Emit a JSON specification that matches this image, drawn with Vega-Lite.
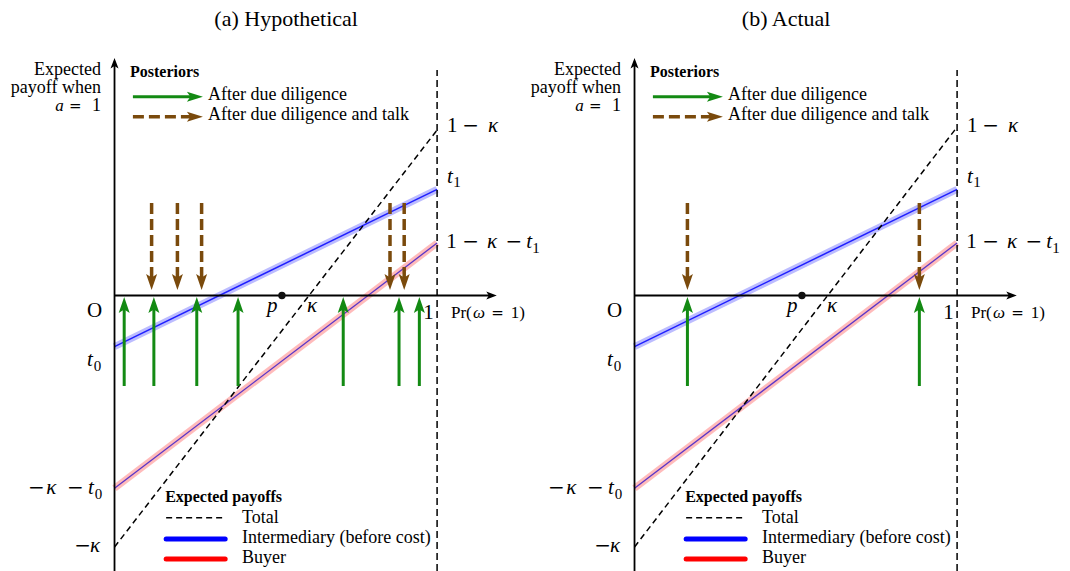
{
  "$schema": "https://vega.github.io/schema/vega-lite/v6.json",
  "background": "white",
  "padding": 0,
  "spacing": 0,
  "bounds": "flush",
  "config": {"view": {"stroke": null}},
  "data": {"values": [
    {"panels":["a","b"],"kind":"blue","x":0,"y":-0.512,"x2":1,"y2":1.062},
    {"panels":["a","b"],"kind":"red","x":0,"y":-1.928,"x2":1,"y2":0.525},
    {"panels":["a"],"kind":"total","x":0,"y":-2.515,"x2":1,"y2":1.655},
    {"panels":["b"],"kind":"total","x":0,"y":-2.515,"x2":1,"y2":1.685},
    {"panels":["a","b"],"kind":"vdash","x":1,"y":-2.755,"y2":2.255},
    {"panels":["a","b"],"kind":"yaxis","x":0,"y":-2.755,"y2":2.375},
    {"panels":["a","b"],"kind":"xaxis","x":0,"x2":1.185,"y":0},
    {"panels":["a","b"],"kind":"p","x":0.519,"y":0},
    {"panels":["a","b"],"kind":"leg_green","x":0.057,"x2":0.274,"y":1.988},
    {"panels":["a","b"],"kind":"leg_brown","x":0.057,"x2":0.274,"y":1.788},
    {"panels":["a","b"],"kind":"leg_total","x":0.16,"x2":0.343,"y":-2.222},
    {"panels":["a","b"],"kind":"leg_blue","x":0.16,"x2":0.343,"y":-2.435},
    {"panels":["a","b"],"kind":"leg_red","x":0.16,"x2":0.343,"y":-2.635},
    {"panels":["a"],"kind":"green","x":0.030,"y":-0.905,"y2":-0.015},
    {"panels":["a"],"kind":"green","x":0.122,"y":-0.905,"y2":-0.015},
    {"panels":["a"],"kind":"green","x":0.255,"y":-0.905,"y2":-0.015},
    {"panels":["a"],"kind":"green","x":0.383,"y":-0.905,"y2":-0.015},
    {"panels":["a"],"kind":"green","x":0.709,"y":-0.905,"y2":-0.015},
    {"panels":["a"],"kind":"green","x":0.882,"y":-0.905,"y2":-0.015},
    {"panels":["a"],"kind":"green","x":0.945,"y":-0.905,"y2":-0.015},
    {"panels":["b"],"kind":"green","x":0.164,"y":-0.905,"y2":-0.015},
    {"panels":["b"],"kind":"green","x":0.883,"y":-0.905,"y2":-0.015},
    {"panels":["a"],"kind":"brown","x":0.115,"y":0.925,"y2":0.055},
    {"panels":["a"],"kind":"brown","x":0.195,"y":0.925,"y2":0.055},
    {"panels":["a"],"kind":"brown","x":0.270,"y":0.925,"y2":0.055},
    {"panels":["a"],"kind":"brown","x":0.854,"y":0.925,"y2":0.055},
    {"panels":["a"],"kind":"brown","x":0.898,"y":0.925,"y2":0.055},
    {"panels":["b"],"kind":"brown","x":0.164,"y":0.925,"y2":0.055},
    {"panels":["b"],"kind":"brown","x":0.883,"y":0.925,"y2":0.055},
    {"panels":["a"],"kind":"title","x":0.532,"y":2.695,"label":"(a) Hypothetical"},
    {"panels":["b"],"kind":"title","x":0.470,"y":2.695,"label":"(b) Actual"},
    {"panels":["a","b"],"kind":"up20","x":-0.085,"y":-0.215,"label":"O"},
    {"panels":["a","b"],"kind":"up20","x":0.957,"y":-0.235,"label":"1"},
    {"panels":["a","b"],"kind":"up20","x":1.031,"y":1.638,"label":"1"},
    {"panels":["a","b"],"kind":"up20","x":1.028,"y":0.475,"label":"1"},
    {"panels":["a","b"],"kind":"op20","x":1.078,"y":1.638,"label":"−"},
    {"panels":["a","b"],"kind":"op20","x":1.078,"y":0.475,"label":"−"},
    {"panels":["a","b"],"kind":"op20","x":1.212,"y":0.475,"label":"−"},
    {"panels":["a","b"],"kind":"op20","x":-0.268,"y":-1.985,"label":"−"},
    {"panels":["a","b"],"kind":"op20","x":-0.147,"y":-1.985,"label":"−"},
    {"panels":["a","b"],"kind":"op20","x":-0.125,"y":-2.565,"label":"−"},
    {"panels":["a","b"],"kind":"it20","x":1.158,"y":1.638,"label":"κ"},
    {"panels":["a","b"],"kind":"it20","x":1.031,"y":1.125,"label":"t"},
    {"panels":["a","b"],"kind":"it20","x":1.155,"y":0.475,"label":"κ"},
    {"panels":["a","b"],"kind":"it20","x":1.276,"y":0.475,"label":"t"},
    {"panels":["a","b"],"kind":"it20","x":0.473,"y":-0.165,"label":"p"},
    {"panels":["a","b"],"kind":"it20","x":0.597,"y":-0.165,"label":"κ"},
    {"panels":["a","b"],"kind":"it20","x":-0.085,"y":-0.705,"label":"t"},
    {"panels":["a","b"],"kind":"it20","x":-0.212,"y":-1.985,"label":"κ"},
    {"panels":["a","b"],"kind":"it20","x":-0.082,"y":-1.985,"label":"t"},
    {"panels":["a","b"],"kind":"it20","x":-0.076,"y":-2.565,"label":"κ"},
    {"panels":["a","b"],"kind":"sub","x":1.050,"y":1.085,"label":"1"},
    {"panels":["a","b"],"kind":"sub","x":1.295,"y":0.425,"label":"1"},
    {"panels":["a","b"],"kind":"sub","x":-0.064,"y":-0.755,"label":"0"},
    {"panels":["a","b"],"kind":"sub","x":-0.061,"y":-2.035,"label":"0"},
    {"panels":["a","b"],"kind":"up16","x":1.043,"y":-0.225,"label":"Pr("},
    {"panels":["a","b"],"kind":"up16","x":1.228,"y":-0.225,"label":"1)"},
    {"panels":["a","b"],"kind":"it16","x":1.111,"y":-0.225,"label":"ω"},
    {"panels":["a","b"],"kind":"op16","x":1.168,"y":-0.225,"label":"="},
    {"panels":["a","b"],"kind":"txtr","x":-0.042,"y":2.205,"label":"Expected"},
    {"panels":["a","b"],"kind":"txtr","x":-0.042,"y":2.025,"label":"payoff when"},
    {"panels":["a","b"],"kind":"txtr","x":-0.042,"y":1.845,"label":"1"},
    {"panels":["a","b"],"kind":"op16","x":-0.141,"y":1.845,"label":"="},
    {"panels":["a","b"],"kind":"it16","x":-0.184,"y":1.845,"label":"a"},
    {"panels":["a","b"],"kind":"txt","x":0.290,"y":1.955,"label":"After due diligence"},
    {"panels":["a","b"],"kind":"txt","x":0.290,"y":1.755,"label":"After due diligence and talk"},
    {"panels":["a","b"],"kind":"txt","x":0.395,"y":-2.275,"label":"Total"},
    {"panels":["a","b"],"kind":"txt","x":0.395,"y":-2.475,"label":"Intermediary (before cost)"},
    {"panels":["a","b"],"kind":"txt","x":0.395,"y":-2.675,"label":"Buyer"},
    {"panels":["a","b"],"kind":"bold","x":0.048,"y":2.185,"label":"Posteriors"},
    {"panels":["a","b"],"kind":"bold","x":0.157,"y":-2.065,"label":"Expected payoffs"}
  ]},
  "transform": [{"flatten": ["panels"], "as": ["panel"]}],
  "facet": {"column": {"field": "panel", "type": "nominal", "header": null}},
  "spec": {
    "width": 520,
    "height": 571,
    "encoding": {
      "x": {"field": "x", "type": "quantitative", "scale": {"domain": [-0.355, 1.257], "nice": false, "zero": false}, "axis": null},
      "y": {"field": "y", "type": "quantitative", "scale": {"domain": [-2.755, 2.955], "nice": false, "zero": false}, "axis": null}
    },
    "layer": [
      {"transform": [{"filter": "datum.kind === 'blue'"}], "mark": {"type": "rule", "stroke": "#b0b0ff", "strokeWidth": 7, "strokeCap": "butt", "opacity": 0.85}, "encoding": {"x2": {"field": "x2"}, "y2": {"field": "y2"}}},
      {"transform": [{"filter": "datum.kind === 'blue'"}], "mark": {"type": "rule", "stroke": "#1f1fff", "strokeWidth": 1.5}, "encoding": {"x2": {"field": "x2"}, "y2": {"field": "y2"}}},
      {"transform": [{"filter": "datum.kind === 'red'"}], "mark": {"type": "rule", "stroke": "#ffb4b4", "strokeWidth": 7, "strokeCap": "butt", "opacity": 0.9}, "encoding": {"x2": {"field": "x2"}, "y2": {"field": "y2"}}},
      {"transform": [{"filter": "datum.kind === 'red'"}], "mark": {"type": "rule", "stroke": "#5a36c8", "strokeWidth": 1.3}, "encoding": {"x2": {"field": "x2"}, "y2": {"field": "y2"}}},
      {"transform": [{"filter": "datum.kind === 'total'"}], "mark": {"type": "rule", "stroke": "#000000", "strokeWidth": 1.5, "strokeDash": [6, 4]}, "encoding": {"x2": {"field": "x2"}, "y2": {"field": "y2"}}},
      {"transform": [{"filter": "datum.kind === 'vdash'"}], "mark": {"type": "rule", "stroke": "#000000", "strokeWidth": 1.5, "strokeDash": [7, 4]}, "encoding": {"y2": {"field": "y2"}}},
      {"transform": [{"filter": "datum.kind === 'yaxis'"}], "mark": {"type": "rule", "stroke": "#000000", "strokeWidth": 1.8, "y2Offset": 6}, "encoding": {"y2": {"field": "y2"}}},
      {"transform": [{"filter": "datum.kind === 'xaxis'"}], "mark": {"type": "rule", "stroke": "#000000", "strokeWidth": 1.8, "x2Offset": -6}, "encoding": {"x2": {"field": "x2"}}},
      {"transform": [{"filter": "datum.kind === 'yaxis'"}], "mark": {"type": "point", "shape": "M0,0L4,10.5L0,8L-4,10.5Z", "size": 4, "filled": true, "color": "#000000", "opacity": 1, "strokeWidth": 0, "angle": 0},
        "encoding": {"y": {"field": "y2", "type": "quantitative", "scale": {"domain": [-2.755, 2.955], "nice": false, "zero": false}, "axis": null}}},
      {"transform": [{"filter": "datum.kind === 'xaxis'"}], "mark": {"type": "point", "shape": "M0,0L4,10.5L0,8L-4,10.5Z", "size": 4, "filled": true, "color": "#000000", "opacity": 1, "strokeWidth": 0, "angle": 90},
        "encoding": {"x": {"field": "x2", "type": "quantitative", "scale": {"domain": [-0.355, 1.257], "nice": false, "zero": false}, "axis": null}}},
      {"transform": [{"filter": "datum.kind === 'green'"}], "mark": {"type": "rule", "stroke": "#138a13", "strokeWidth": 3, "y2Offset": 11}, "encoding": {"y2": {"field": "y2"}}},
      {"transform": [{"filter": "datum.kind === 'green'"}], "mark": {"type": "point", "shape": "M0,0L5.5,16L0,12.5L-5.5,16Z", "size": 4, "filled": true, "color": "#138a13", "opacity": 1, "strokeWidth": 0, "angle": 0},
        "encoding": {"y": {"field": "y2", "type": "quantitative", "scale": {"domain": [-2.755, 2.955], "nice": false, "zero": false}, "axis": null}}},
      {"transform": [{"filter": "datum.kind === 'brown'"}], "mark": {"type": "rule", "stroke": "#7a4a0c", "strokeWidth": 3.5, "strokeDash": [11, 5], "y2Offset": -11}, "encoding": {"y2": {"field": "y2"}}},
      {"transform": [{"filter": "datum.kind === 'brown'"}], "mark": {"type": "point", "shape": "M0,0L5.5,16L0,12.5L-5.5,16Z", "size": 4, "filled": true, "color": "#7a4a0c", "opacity": 1, "strokeWidth": 0, "angle": 180},
        "encoding": {"y": {"field": "y2", "type": "quantitative", "scale": {"domain": [-2.755, 2.955], "nice": false, "zero": false}, "axis": null}}},
      {"transform": [{"filter": "datum.kind === 'leg_green'"}], "mark": {"type": "rule", "stroke": "#138a13", "strokeWidth": 3, "x2Offset": -11}, "encoding": {"x2": {"field": "x2"}}},
      {"transform": [{"filter": "datum.kind === 'leg_green'"}], "mark": {"type": "point", "shape": "M0,0L5,16L0,12.5L-5,16Z", "size": 4, "filled": true, "color": "#138a13", "opacity": 1, "strokeWidth": 0, "angle": 90},
        "encoding": {"x": {"field": "x2", "type": "quantitative", "scale": {"domain": [-0.355, 1.257], "nice": false, "zero": false}, "axis": null}}},
      {"transform": [{"filter": "datum.kind === 'leg_brown'"}], "mark": {"type": "rule", "stroke": "#7a4a0c", "strokeWidth": 3.5, "strokeDash": [11, 5], "x2Offset": -11}, "encoding": {"x2": {"field": "x2"}}},
      {"transform": [{"filter": "datum.kind === 'leg_brown'"}], "mark": {"type": "point", "shape": "M0,0L5,16L0,12.5L-5,16Z", "size": 4, "filled": true, "color": "#7a4a0c", "opacity": 1, "strokeWidth": 0, "angle": 90},
        "encoding": {"x": {"field": "x2", "type": "quantitative", "scale": {"domain": [-0.355, 1.257], "nice": false, "zero": false}, "axis": null}}},
      {"transform": [{"filter": "datum.kind === 'p'"}], "mark": {"type": "circle", "size": 55, "color": "#111111", "opacity": 1}},
      {"transform": [{"filter": "datum.kind === 'leg_total'"}], "mark": {"type": "rule", "stroke": "#000000", "strokeWidth": 1.5, "strokeDash": [6, 4]}, "encoding": {"x2": {"field": "x2"}}},
      {"transform": [{"filter": "datum.kind === 'leg_blue'"}], "mark": {"type": "rule", "stroke": "#0000ff", "strokeWidth": 5, "strokeCap": "round"}, "encoding": {"x2": {"field": "x2"}}},
      {"transform": [{"filter": "datum.kind === 'leg_red'"}], "mark": {"type": "rule", "stroke": "#ff0000", "strokeWidth": 5, "strokeCap": "round"}, "encoding": {"x2": {"field": "x2"}}},
      {"transform": [{"filter": "datum.kind === 'title'"}], "mark": {"type": "text", "font": "Liberation Serif", "fontSize": 22, "align": "center", "baseline": "alphabetic", "color": "#000000"}, "encoding": {"text": {"field": "label"}}},
      {"transform": [{"filter": "datum.kind === 'up20'"}], "mark": {"type": "text", "font": "Liberation Serif", "fontSize": 21, "align": "left", "baseline": "alphabetic", "color": "#000000"}, "encoding": {"text": {"field": "label"}}},
      {"transform": [{"filter": "datum.kind === 'op20'"}], "mark": {"type": "text", "font": "DejaVu Serif", "fontSize": 20, "align": "left", "baseline": "alphabetic", "color": "#000000"}, "encoding": {"text": {"field": "label"}}},
      {"transform": [{"filter": "datum.kind === 'it20'"}], "mark": {"type": "text", "font": "Liberation Serif", "fontSize": 21, "fontStyle": "italic", "align": "left", "baseline": "alphabetic", "color": "#000000"}, "encoding": {"text": {"field": "label"}}},
      {"transform": [{"filter": "datum.kind === 'sub'"}], "mark": {"type": "text", "font": "Liberation Serif", "fontSize": 15, "align": "left", "baseline": "alphabetic", "color": "#000000"}, "encoding": {"text": {"field": "label"}}},
      {"transform": [{"filter": "datum.kind === 'up16'"}], "mark": {"type": "text", "font": "Liberation Serif", "fontSize": 17, "align": "left", "baseline": "alphabetic", "color": "#000000"}, "encoding": {"text": {"field": "label"}}},
      {"transform": [{"filter": "datum.kind === 'it16'"}], "mark": {"type": "text", "font": "Liberation Serif", "fontSize": 17, "fontStyle": "italic", "align": "left", "baseline": "alphabetic", "color": "#000000"}, "encoding": {"text": {"field": "label"}}},
      {"transform": [{"filter": "datum.kind === 'op16'"}], "mark": {"type": "text", "font": "DejaVu Serif", "fontSize": 15, "align": "left", "baseline": "alphabetic", "color": "#000000"}, "encoding": {"text": {"field": "label"}}},
      {"transform": [{"filter": "datum.kind === 'txtr'"}], "mark": {"type": "text", "font": "Liberation Serif", "fontSize": 18, "align": "right", "baseline": "alphabetic", "color": "#000000"}, "encoding": {"text": {"field": "label"}}},
      {"transform": [{"filter": "datum.kind === 'txt'"}], "mark": {"type": "text", "font": "Liberation Serif", "fontSize": 18, "align": "left", "baseline": "alphabetic", "color": "#000000"}, "encoding": {"text": {"field": "label"}}},
      {"transform": [{"filter": "datum.kind === 'bold'"}], "mark": {"type": "text", "font": "Liberation Serif", "fontSize": 16, "fontWeight": "bold", "align": "left", "baseline": "alphabetic", "color": "#000000"}, "encoding": {"text": {"field": "label"}}}
    ]
  }
}
